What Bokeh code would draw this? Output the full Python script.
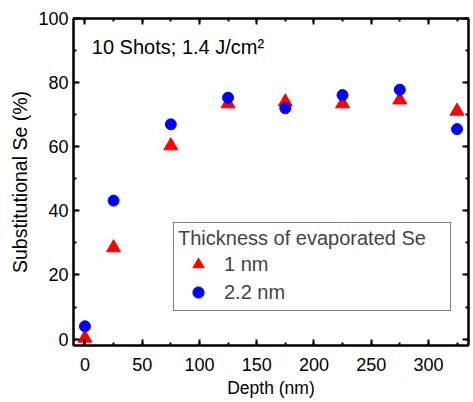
from bokeh.plotting import figure
from bokeh.models import (Range1d, LinearAxis, Legend, LegendItem, Label,
                          SingleIntervalTicker)
from bokeh.embed import file_html
from bokeh.resources import INLINE

# Data
depth = [0, 25, 75, 125, 175, 225, 275, 325]
se_1nm = [0.3, 28.5, 60.3, 73.4, 74.0, 73.4, 74.6, 71.1]
se_22nm = [4.0, 43.2, 67.0, 75.3, 72.0, 76.1, 77.8, 65.5]
series_labels = ["1 nm", "2.2 nm"]
legend_title = "Thickness of evaporated Se"
annotation = "10 Shots; 1.4 J/cm\u00b2"
x_label = "Depth (nm)"
y_label = "Substitutional Se (%)"

FONT = "Liberation Sans"

p = figure(width=473, height=402, output_backend="svg", toolbar_location=None,
           x_range=Range1d(-10, 335), y_range=Range1d(-2, 100),
           min_border_left=73, min_border_right=5, min_border_top=18,
           min_border_bottom=57)
p.frame_width = 395
p.frame_height = 327
p.xgrid.visible = False
p.ygrid.visible = False
p.outline_line_color = "black"
p.outline_line_width = 2
p.background_fill_color = "white"
p.border_fill_color = "white"


def style_axis(ax, labels=True):
    ax.axis_line_width = 2
    ax.axis_line_color = "black"
    ax.major_tick_in = 6
    ax.major_tick_out = 0
    ax.minor_tick_in = 3
    ax.minor_tick_out = 0
    ax.major_tick_line_width = 2
    ax.minor_tick_line_width = 2
    ax.major_label_text_font = FONT
    ax.major_label_text_font_size = "18px"
    ax.major_label_text_color = "black"
    ax.axis_label_text_font = FONT
    ax.axis_label_text_font_style = "normal"
    ax.axis_label_text_color = "black"
    if not labels:
        ax.major_label_text_color = None
        ax.major_label_text_font_size = "1px"
        ax.major_label_standoff = 0
        ax.axis_label = None


p.xaxis.ticker = SingleIntervalTicker(interval=50, num_minor_ticks=2)
p.yaxis.ticker = SingleIntervalTicker(interval=20, num_minor_ticks=2)
p.xaxis.axis_label = x_label
p.yaxis.axis_label = y_label
style_axis(p.xaxis[0])
style_axis(p.yaxis[0])
p.xaxis.axis_label_text_font_size = "17.5px"
p.yaxis.axis_label_text_font_size = "19.5px"
p.xaxis.major_label_standoff = 12
p.xaxis.axis_label_standoff = 4
p.yaxis.major_label_standoff = 5
p.yaxis.axis_label_standoff = 4

top = LinearAxis(ticker=SingleIntervalTicker(interval=50, num_minor_ticks=2))
style_axis(top, labels=False)
p.add_layout(top, "above")
right = LinearAxis(ticker=SingleIntervalTicker(interval=20, num_minor_ticks=2))
style_axis(right, labels=False)
p.add_layout(right, "right")

r1 = p.scatter(depth, se_1nm, marker="triangle", size=14, fill_color="red",
               line_color="red")
r2 = p.scatter(depth, se_22nm, marker="circle", size=11, fill_color="blue",
               line_color="blue")

lab = Label(x=6, y=91, text=annotation, text_font=FONT, text_font_size="20px",
            text_baseline="middle", text_color="black")
p.add_layout(lab)

legend = Legend(items=[LegendItem(label=series_labels[0], renderers=[r1]),
                       LegendItem(label=series_labels[1], renderers=[r2])],
                title=legend_title, location=(100, 34))
legend.title_text_font = FONT
legend.title_text_font_size = "20px"
legend.title_text_font_style = "normal"
legend.title_standoff = -6
legend.label_text_font = FONT
legend.label_text_font_size = "20px"
legend.border_line_color = "black"
legend.border_line_width = 1
legend.background_fill_color = "white"
legend.background_fill_alpha = 1
legend.padding = 4
legend.margin = 0
legend.spacing = -2
legend.label_height = 28
legend.glyph_height = 28
legend.glyph_width = 40
legend.label_standoff = 6
legend.label_width = 222
p.add_layout(legend, "center")

open("out.html", "w").write(file_html(p, INLINE))
